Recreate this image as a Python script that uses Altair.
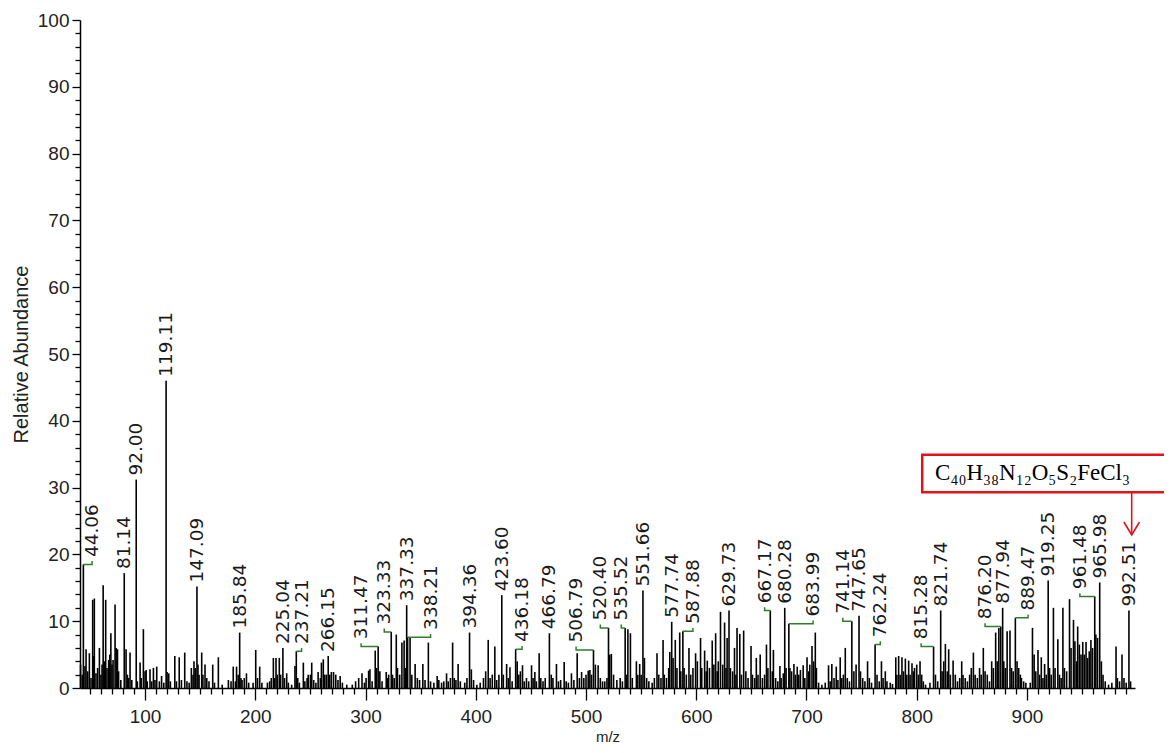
import altair as alt
import pandas as pd

# ---------------- data ----------------
peak_mz = [
    41.5, 43, 44.06, 45.5, 46.5, 48, 49.5, 51, 52.5, 53.2, 54, 55.5, 57, 58.6, 60, 61, 62, 63, 64.3, 65.5,
    67, 68, 69, 70, 71, 72.8, 73.8, 75, 76, 78, 81.14, 82.8, 84, 85, 86.4, 88, 92.00, 93, 95.5, 96.5,
    98.5, 100, 101, 102, 104.5, 106, 107.6, 109, 110.6, 113, 115, 117, 119.11, 120, 121.5, 123,
    127, 128.5, 131, 133, 136, 138, 140, 142, 143.5, 144.4, 145.5, 147.09, 148, 149, 151.4, 152.5, 154.4,
    156, 158, 161.4, 163, 166.5, 170, 175.6, 178, 180, 182, 183, 184.5, 185.84, 187, 188, 190, 192, 194,
    198, 200.4, 202, 204, 206, 211, 213, 214.5, 216.4, 217.5, 218.8, 220, 221.8, 223, 225.04, 226.5,
    228.5, 230, 233, 236, 237.21, 238.5, 240,
    243.6, 245, 247, 248, 250, 251.2, 253, 255, 257, 259, 260, 261.7, 263, 264.5, 266.15, 267.5, 269, 271,
    273, 275, 277, 279, 283, 288, 291, 293.8, 296.8, 299, 300.5, 302.8, 304, 306, 308.8, 310, 311.47,
    313, 315, 318.8, 320, 321, 323.33, 324.5, 326, 327.9, 329, 331, 333, 335, 336, 337.33, 338.21, 340.4,
    342, 345, 347, 349, 352, 354, 357, 359,
    362, 365, 366.5, 369, 371, 373.5, 375, 377, 379, 380.5, 382, 384, 386, 390, 392, 394.36, 396, 398,
    401, 404, 407, 409, 411.3, 413, 415, 417.3, 419, 421, 423.60, 425, 428, 429.5, 431, 433, 436.18,
    437.6, 439, 440.5, 442.4, 444, 446, 448, 450.6, 452, 453.6, 455, 457.5, 459, 461, 463, 466.79, 468.5,
    470, 473.2, 475, 477, 480.2, 482, 484, 486.8, 489, 492, 494, 496, 498, 500,
    502, 503.5, 505, 506.79, 508.5, 511, 513, 515, 517, 519, 520.40, 521.5, 523, 525, 528, 531, 533,
    535.52, 537, 538, 540.3, 542, 545.7, 547, 548.7, 550, 551.66, 553, 555, 557, 560, 562, 564.4, 566,
    568, 569.9, 571, 573, 575, 576, 577.74, 579, 581, 582.5, 585, 586, 587.88, 589, 591, 593.4, 595, 597,
    599.4, 601, 603.9, 605, 607.6, 609, 610, 612, 614.5, 616, 617.6, 619, 620, 622, 624, 625.7, 627, 628,
    629.73, 631, 633, 634.7, 636, 637, 639.5,
    641, 643, 645, 647, 649.7, 651, 653, 654.5, 656, 658, 660, 662, 663.7, 665, 667.17, 669, 670, 672,
    674, 675.9, 677, 679, 680.28, 681.5, 683.99, 685, 686.5, 688.6, 690, 691.6, 693, 694.5, 697, 698.5,
    700.5, 702, 703, 705, 706.5, 708, 709, 711, 714, 717, 720, 721.5, 723, 725, 727, 728.5, 730.6, 732,
    733.5, 735.2, 737, 739, 741.14, 743, 745, 747.65, 749, 751, 753, 755.4, 757, 759,
    762.24, 764, 766, 768, 769.5, 771.5, 773, 776, 778, 781, 782, 783.6, 785, 786.6, 788, 789.7, 791,
    792.7, 794, 795.7, 797, 798, 800, 801.5, 803, 804.5, 806, 808, 812, 815.28, 817, 819, 821.74, 823,
    824.5, 826, 827.7, 829, 830.5, 833, 835, 837, 839, 840.8, 842, 844, 846, 848, 849.5, 851.4, 853, 855,
    857, 858.5, 860.4, 862, 864, 866, 868, 869.5, 871.6, 873, 874.5, 876.20, 877.94, 879, 880.5, 882,
    884.6, 886,
    887.5, 889.47, 891, 892.5, 894, 895, 897, 899, 903, 905, 906.5, 908, 910, 911.5, 913, 914.5, 916,
    917.5, 919.25, 920.5, 922, 924, 925.5, 928, 929.5, 931, 932.6, 934, 936, 938.6, 940, 942.2, 943.5,
    945, 946, 947.5, 949, 950.6, 952, 953.6, 955, 956.5, 958, 959.5, 961.48, 962.5, 964, 965.98, 967.5,
    969, 971, 974, 977, 980.8, 982, 984, 986.2, 988, 990, 992.51, 994,
]
peak_abundance = [
    3.5, 2.0, 18.5, 3.3, 5.8, 2.5, 5.2, 1.5, 13.2, 4.8, 13.4, 2.2, 3.0, 6.0, 2.0, 3.5, 15.4, 4.0, 13.2, 3.0,
    4.2, 5.0, 8.2, 3.5, 4.2, 12.5, 6.0, 5.8, 2.5, 1.2, 17.2, 5.8, 2.0, 1.5, 5.3, 1.2, 31.2, 1.0, 3.8, 1.5,
    8.8, 2.5, 2.7, 1.0, 2.8, 1.0, 3.0, 1.2, 3.2, 1.0, 1.8, 0.8, 46.0, 2.4, 2.2, 1.0,
    4.8, 1.0, 4.6, 1.2, 5.3, 1.0, 0.8, 3.0, 2.0, 4.0, 3.0, 15.2, 3.5, 2.0, 5.3, 2.0, 3.5,
    1.5, 1.0, 3.5, 0.8, 4.6, 0.5, 1.2, 1.0, 3.2, 1.0, 3.2, 2.0, 8.3, 1.5, 1.2, 1.5, 2.2, 0.8,
    0.8, 5.7, 1.5, 3.2, 0.8, 0.8, 1.0, 1.5, 4.5, 1.5, 4.5, 2.0, 4.5, 2.0, 6.0, 1.5,
    2.2, 0.8, 0.5, 3.3, 5.5, 1.5, 0.8,
    3.8, 1.0, 1.5, 2.0, 2.0, 3.8, 1.2, 0.8, 2.4, 1.5, 3.8, 4.3, 2.0, 2.0, 4.8, 2.0, 2.4, 2.4,
    2.0, 1.2, 1.8, 0.8, 0.5, 0.5, 1.0, 1.5, 2.2, 0.8, 1.5, 2.6, 2.8, 1.0, 5.6, 3.0, 6.2,
    2.5, 1.0, 2.4, 1.5, 2.0, 8.4, 2.0, 1.5, 8.0, 3.0, 2.0, 6.8, 7.1, 3.0, 12.4, 7.6, 7.5,
    2.0, 3.6, 1.5, 1.2, 3.6, 1.2, 6.8, 1.0,
    0.8, 1.8, 1.2, 0.8, 1.0, 2.2, 1.0, 1.5, 6.8, 1.5, 1.2, 3.6, 1.0, 0.8, 1.5, 8.3, 2.8, 1.2,
    0.5, 0.8, 1.5, 2.5, 7.2, 1.5, 2.0, 6.2, 1.2, 2.0, 13.9, 2.0, 3.6, 1.5, 3.1, 1.0, 5.8,
    4.0, 2.0, 2.5, 3.4, 1.0, 1.5, 1.0, 3.4, 1.5, 2.4, 1.0, 5.2, 1.5, 1.0, 1.5, 8.2, 2.0,
    1.5, 3.6, 1.0, 1.2, 3.9, 1.0, 0.8, 2.2, 1.2, 5.2, 1.5, 2.4, 1.5, 2.0,
    2.6, 2.7, 2.0, 5.7, 3.5, 3.4, 1.5, 1.0, 1.0, 1.5, 9.0, 5.0, 5.1, 2.0, 1.2, 1.5, 1.0,
    9.0, 2.0, 8.8, 8.2, 1.5, 4.0, 2.0, 3.6, 2.0, 14.6, 4.5, 1.5, 1.0, 0.8, 1.5, 5.2, 2.0,
    1.5, 7.2, 2.0, 1.5, 3.0, 5.4, 9.9, 4.5, 7.2, 3.0, 8.3, 2.5, 8.5, 3.0, 2.0, 6.0, 2.0, 3.0,
    5.2, 4.0, 7.5, 3.0, 5.6, 2.5, 4.1, 3.0, 7.1, 3.5, 8.2, 2.5, 4.0, 11.4, 3.5, 9.8, 3.0, 7.5,
    11.6, 3.0, 2.5, 6.0, 2.0, 9.0, 8.1,
    2.0, 8.6, 2.5, 1.5, 6.3, 2.0, 1.5, 4.5, 2.0, 5.0, 1.5, 2.0, 6.5, 3.0, 11.6, 2.5, 5.7, 1.5,
    1.0, 3.3, 1.5, 2.2, 12.0, 3.0, 9.6, 3.0, 2.5, 3.6, 2.0, 3.2, 2.0, 2.7, 3.4, 1.5,
    4.6, 2.5, 3.5, 6.3, 4.0, 8.3, 3.0, 0.8, 0.5, 0.8, 3.4, 1.0, 3.6, 1.5, 3.2, 1.2, 4.6, 1.5,
    2.0, 6.0, 1.5, 1.0, 10.0, 2.5, 3.5, 10.8, 2.5, 1.5, 1.0, 4.0, 1.5, 0.8,
    6.5, 2.0, 1.0, 4.0, 1.5, 2.5, 1.0, 0.8, 0.6, 4.6, 2.0, 4.8, 2.0, 4.6, 2.5, 4.4, 2.0,
    4.1, 2.0, 3.7, 2.5, 3.0, 3.5, 2.0, 4.0, 2.0, 1.0, 0.5, 0.8, 6.2, 2.0, 1.0, 11.6, 2.5,
    4.0, 6.6, 2.5, 5.8, 2.0, 4.1, 2.0, 1.0, 1.5, 4.0, 2.0, 1.5, 1.0, 2.0, 3.0, 5.3, 2.0, 1.5,
    3.0, 2.0, 6.0, 2.5, 2.0, 1.0, 4.0, 3.0, 8.3, 4.0, 9.0, 9.2, 12.0, 4.0, 3.0, 8.5,
    8.6, 3.0,
    2.5, 10.5, 4.0, 3.0, 2.0, 1.5, 1.0, 0.8, 0.8, 9.0, 5.0, 2.5, 5.7, 2.0, 4.6, 1.5, 3.6,
    2.0, 16.1, 3.0, 2.0, 12.0, 3.0, 7.3, 2.0, 1.5, 12.0, 3.0, 2.5, 13.3, 6.0, 10.2, 7.0,
    4.0, 9.2, 6.5, 5.0, 6.9, 5.0, 6.9, 4.5, 5.5, 7.2, 6.0, 13.7, 8.0, 7.5, 15.8, 4.0,
    2.0, 1.0, 0.5, 0.8, 6.2, 1.5, 1.0, 5.0, 1.5, 0.8, 11.6, 1.0,
]

# labelled peaks: text, and the m/z at which the label is written
label_text = [
    "44.06", "81.14", "92.00", "119.11", "147.09", "185.84", "225.04", "237.21", "266.15", "311.47",
    "323.33", "337.33", "338.21", "394.36", "423.60", "436.18", "466.79", "506.79", "520.40", "535.52",
    "551.66", "577.74", "587.88", "629.73", "667.17", "680.28", "683.99", "741.14", "747.65", "762.24",
    "815.28", "821.74", "876.20", "877.94", "889.47", "919.25", "961.48", "965.98", "992.51",
]
label_pos_mz = [
    52, 81.14, 92.00, 119.11, 147.09, 185.84, 225.04, 242, 266.15, 296,
    317, 337.33, 359, 394.36, 423.60, 442, 466.79, 491, 513, 532,
    551.66, 577.74, 597, 629.73, 662, 680.28, 706, 733, 747.65, 767,
    804, 821.74, 862, 877.94, 901, 919.25, 948, 965.98, 992.51,
]

formula_text = ["C\u2084\u2080H\u2083\u2088N\u2081\u2082O\u2085S\u2082FeCl\u2083"]
formula_box_mz = [805, 1035]
formula_box_abundance = [29.3, 34.9]
formula_text_mz = [905]
formula_text_abundance = [32.2]
arrow_mz = [995]
arrow_abundance = [29.3, 22.9]

x_ticks = list(range(50, 1000, 10))
y_ticks = list(range(0, 101, 2))

# ---------------- tables ----------------
peaks = pd.DataFrame({"mz": peak_mz, "abundance": peak_abundance})
height_of = dict(zip(peak_mz, peak_abundance))

lab_rows, conn_rows = [], []
for i, (txt, pos) in enumerate(zip(label_text, label_pos_mz)):
    pk = float(txt)
    h = height_of[pk]
    moved = abs(pos - pk) > 0.01
    lab_rows.append({"mz": pos, "abundance": h + (0.5 if moved else 0.0), "text": txt})
    if moved:
        for j, (xm, ya) in enumerate([(pk, h), (pos, h), (pos, h + 0.5)]):
            conn_rows.append({"mz": xm, "abundance": ya, "grp": i, "ord": j})
labels = pd.DataFrame(lab_rows)
connectors = pd.DataFrame(conn_rows)

box = pd.DataFrame({"x0": [formula_box_mz[0]], "x1": [formula_box_mz[1]],
                    "y0": [formula_box_abundance[0]], "y1": [formula_box_abundance[1]]})
ftext = pd.DataFrame({"mz": formula_text_mz, "abundance": formula_text_abundance, "text": formula_text})
arrow = pd.DataFrame({"mz": arrow_mz, "y0": [arrow_abundance[0]], "y1": [arrow_abundance[1]]})

# ---------------- scales / axes ----------------
x_scale = alt.Scale(domain=[41, 998], nice=False, zero=False)
y_scale = alt.Scale(domain=[0, 100], nice=False)
x_axis = alt.Axis(
    values=x_ticks, title="m/z", grid=False, labelOverlap=False, labelFlush=False,
    labelExpr="datum.value % 100 === 0 ? datum.label : ''",
    tickSize={"condition": {"test": "datum.value % 100 === 0", "value": 12}, "value": 6},
    labelPadding=7, titlePadding=3, titleFontSize=15, titleFontWeight="normal",
)
y_axis = alt.Axis(
    values=y_ticks, title="Relative Abundance", grid=False, labelOverlap=False,
    labelExpr="datum.value % 10 === 0 ? datum.label : ''",
    tickSize={"condition": {"test": "datum.value % 10 === 0", "value": 8}, "value": 5},
    labelPadding=3, titlePadding=6, titleFontSize=20, titleFontWeight="normal",
)

def X(field):
    return alt.X(f"{field}:Q", scale=x_scale, axis=x_axis)

def Y(field):
    return alt.Y(f"{field}:Q", scale=y_scale, axis=y_axis)

red = "#e3131b"
green = "#2f7d2f"

bars = alt.Chart(peaks).mark_rule(color="black", strokeWidth=1.6).encode(
    x=X("mz"), y=Y("abundance"), y2=alt.datum(0)
)
conn = alt.Chart(connectors).mark_line(color=green, strokeWidth=1.5).encode(
    x=X("mz"), y=Y("abundance"), detail="grp:N", order="ord:Q"
)
lab = alt.Chart(labels).mark_text(
    angle=270, align="left", baseline="middle", dx=4, fontSize=18.5,
    font="DejaVu Sans", color="#1a1a1a"
).encode(x=X("mz"), y=Y("abundance"), text="text:N")

rect = alt.Chart(box).mark_rect(fill="white", stroke=red, strokeWidth=2.5).encode(
    x=X("x0"), x2="x1", y=Y("y0"), y2="y1"
)
ftxt = alt.Chart(ftext).mark_text(
    fontSize=23, font="Liberation Serif", color="black", align="center", baseline="middle"
).encode(x=X("mz"), y=Y("abundance"), text="text:N")
arrow_line = alt.Chart(arrow).mark_rule(color=red, strokeWidth=1.6).encode(
    x=X("mz"), y=Y("y0"), y2="y1"
)
arrow_head = alt.Chart(arrow).mark_point(
    shape="M-0.6,-1L0,0L0.6,-1", size=676, filled=False, color=red, strokeWidth=1.6, opacity=1
).encode(x=X("mz"), y=Y("y1"))

chart = alt.layer(bars, conn, lab, rect, ftxt, arrow_line, arrow_head).properties(
    width=1055, height=668,
    padding={"left": 72, "top": 12, "right": 29, "bottom": 56},
    autosize=alt.AutoSizeParams(type="none"),
).configure_view(stroke=None).configure_axis(
    domainColor="black", domainWidth=1.5, tickColor="black", tickWidth=1.3,
    labelFont="Liberation Sans", labelFontSize=19, labelColor="#222",
    titleFont="Liberation Sans", titleColor="#222",
)

chart.save("out.html", embed_options={"renderer": "svg", "actions": False})
